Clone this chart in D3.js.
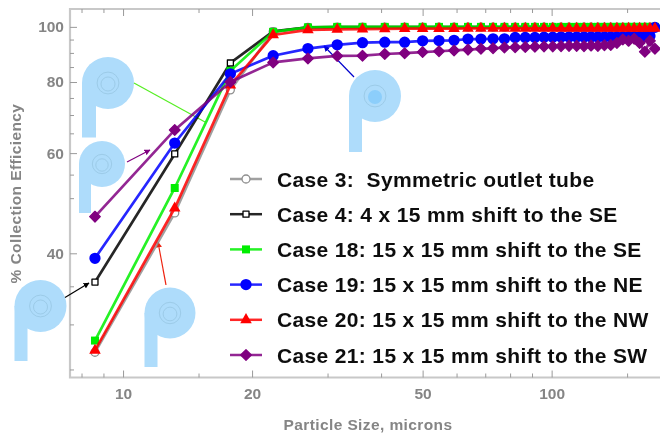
<!DOCTYPE html>
<html>
<head>
<meta charset="utf-8">
<script src="https://cdn.jsdelivr.net/npm/d3@7"></script>
<style>
  html, body { margin: 0; padding: 0; background: #fff; }
  svg { display: block; }
  text { font-family: "Liberation Sans", Arial, sans-serif; font-weight: bold; white-space: pre; }
</style>
</head>
<body>
<div id="chart"></div>
<script>
var width  = 660;
var height = 434;

// Particle size, microns
var sizes = [8.6, 13.2, 17.8, 22.4, 27, 31.6, 36.2, 40.8, 45.4, 50, 54.6, 59.2, 63.8,
  68.4, 73, 77.6, 82.2, 86.8, 91.4, 96, 100.6, 105.2, 109.8, 114.4, 119, 123.6, 128.2,
  132.8, 137.4, 142, 146.6, 151.2, 155.8, 160.4, 165, 169.6, 174.2];

// % collection efficiency, one list per case
var case3 = [26.8, 47.1, 77.5, 98, 99.8, 99.9, 99.9, 99.9, 99.9, 99.9, 99.9, 99.9, 99.9,
  99.9, 99.9, 99.9, 99.9, 99.9, 99.9, 99.9, 99.9, 99.9, 99.9, 99.9, 99.9, 99.9, 99.9,
  99.9, 99.9, 99.9, 99.9, 99.9, 99.9, 99.9, 99.9, 99.9, 99.9];
var case4 = [35.6, 59.8, 86.4, 98.2, 99.8, 99.9, 99.9, 99.9, 99.9, 99.9, 99.9, 99.9, 99.9,
  99.9, 99.9, 99.9, 99.9, 99.9, 99.9, 99.9, 99.9, 99.9, 99.9, 99.9, 99.9, 99.9, 99.9,
  99.9, 99.9, 99.9, 99.9, 99.9, 99.9, 99.9, 99.9, 99.9, 99.9];
var case18 = [28.1, 52.1, 83.7, 98, 99.8, 100, 100, 100, 100, 100, 100, 100, 100,
  100, 100, 100, 100, 100, 100, 100, 100, 100, 100, 100, 100, 100, 100,
  100, 100, 100, 100, 100, 100, 100, 100, 100, 100];
var case19 = [39.2, 62.5, 82.7, 89, 91.6, 93, 93.8, 94, 94, 94.5, 94.6, 94.7, 95.2,
  95.2, 95.3, 95.3, 95.8, 95.8, 95.8, 95.9, 95.9, 96, 96, 96, 96, 96, 96,
  96, 96, 96, 96, 96.1, 96.1, 96.1, 96.2, 96.4, 99.8];
var case20 = [27, 48, 79, 96.8, 98.8, 99, 99.1, 99.2, 99.3, 99.3, 99.3, 99.3, 99.4,
  99.4, 99.4, 99.4, 99.4, 99.4, 99.4, 99.4, 99.4, 99.4, 99.4, 99.4, 99.4, 99.4, 99.4,
  99.4, 99.4, 99.4, 99.4, 99.4, 99.4, 99.4, 99.4, 99.4, 99.4];
var case21 = [46.4, 65.9, 80, 86.6, 88, 88.9, 89, 89.6, 89.9, 90.3, 90.6, 90.9, 91.2,
  91.5, 91.7, 92, 92.1, 92.2, 92.3, 92.4, 92.4, 92.5, 92.6, 92.6, 92.5, 92.7, 92.6,
  92.8, 92.9, 93.7, 95, 94.5, 95.3, 93.7, 90.4, 94.5, 91.5];

var legendLabels = [
  "Case 3:  Symmetric outlet tube",
  "Case 4: 4 x 15 mm shift to the SE",
  "Case 18: 15 x 15 mm shift to the SE",
  "Case 19: 15 x 15 mm shift to the NE",
  "Case 20: 15 x 15 mm shift to the NW",
  "Case 21: 15 x 15 mm shift to the SW"
];
var caseValues = [case3, case4, case18, case19, case20, case21];
var caseColors = ["#8f8f8f", "#000000", "#00ee00", "#0000ff", "#ff0000", "#800080"];
var caseSymbols = ["openCircle", "openSquare", "square", "circle", "triangle", "diamond"];

var xTicks = [10, 20, 50, 100];
var xMinorTicks = [8, 9, 15, 30, 40, 60, 70, 80, 90, 150];
var yTicks = [40, 60, 80, 100];
var yMinorTicks = [25, 30, 35, 50, 55, 65, 70, 75, 85, 90, 95];

// Pump inset sketches: circle centre, radius, outlet width and where the outlet ends.
var pumps = [
  { cx: 108, cy: 83,  r: 26,   w: 14, end: 137.5 },
  { cx: 102, cy: 164, r: 23,   w: 12, end: 213 },
  { cx: 375, cy: 96,  r: 26,   w: 13, end: 152, dot: true },
  { cx: 40.5, cy: 306, r: 26,  w: 13, end: 361 },
  { cx: 170, cy: 313, r: 25.5, w: 13, end: 367 }
];

// Leader lines from the sketches to their curves
var leaders = [
  { from: [134, 83],  to: [205, 122], color: "#55ee22", head: null },
  { from: [127, 162], to: [150, 150], color: "#800080", head: "purple" },
  { from: [354, 77],  to: [324, 46],  color: "#0000cc", head: "blue" },
  { from: [65, 297.5], to: [89, 283], color: "#000000", head: "black" },
  { from: [166, 285], to: [158, 242], color: "#ee2211", head: "red" }
];

var x = d3.scaleLog().domain([7.52, 179]).range([70, 660]);
var y = d3.scaleLog().domain([24.2, 107.5]).range([377.5, 9]);

var svg = d3.select("#chart").append("svg")
  .attr("width", width)
  .attr("height", height);

// The reference is a soft, resampled image
var defs = svg.append("defs");
defs.append("filter")
  .attr("id", "soft")
  .attr("x", "-5%").attr("y", "-5%").attr("width", "110%").attr("height", "110%")
  .append("feGaussianBlur").attr("stdDeviation", 0.7);

leaders.filter(function(d) { return d.head; }).forEach(function(d) {
  defs.append("marker")
    .attr("id", "head-" + d.head)
    .attr("viewBox", "0 0 10 10")
    .attr("refX", 9).attr("refY", 5)
    .attr("markerWidth", 6).attr("markerHeight", 6)
    .attr("markerUnits", "userSpaceOnUse")
    .attr("orient", "auto")
    .append("path").attr("d", "M0,0L10,5L0,10Z").attr("fill", d.color);
});

var root = svg.append("g").attr("filter", "url(#soft)");

// Frame
root.append("path")
  .attr("fill", "none").attr("stroke", "#c8c8c8").attr("stroke-width", 2.2)
  .attr("d", "M" + x.range()[1] + "," + y.range()[0] + "H" + x.range()[0] + "V" + y.range()[1] + "H" + x.range()[1]);

function styleAxis(g) {
  g.select(".domain").remove();
  g.selectAll("line").attr("stroke", "#9a9a9a").attr("stroke-width", 1);
  g.selectAll("text").attr("fill", "#858585").attr("font-size", 15.5);
}

// Axes
var xAxisG = root.append("g").attr("transform", "translate(0," + y.range()[0] + ")")
  .call(d3.axisBottom(x).tickValues(xTicks).tickSize(-7).tickFormat(d3.format("d")))
  .call(styleAxis);
xAxisG.selectAll("text").attr("y", 8).attr("dy", "0.85em");
root.append("g").attr("transform", "translate(0," + y.range()[1] + ")")
  .call(d3.axisTop(x).tickValues(xTicks).tickSize(-7).tickFormat(""))
  .call(styleAxis);
var yAxisG = root.append("g").attr("transform", "translate(" + x.range()[0] + ",0)")
  .call(d3.axisLeft(y).tickValues(yTicks).tickSize(-7).tickFormat(d3.format("d")))
  .call(styleAxis);
yAxisG.selectAll("text").attr("x", -6);

root.append("g").attr("transform", "translate(0," + y.range()[0] + ")")
  .call(d3.axisBottom(x).tickValues(xMinorTicks).tickSize(-4).tickFormat(""))
  .call(styleAxis);
root.append("g").attr("transform", "translate(0," + y.range()[1] + ")")
  .call(d3.axisTop(x).tickValues(xMinorTicks).tickSize(-4).tickFormat(""))
  .call(styleAxis);
root.append("g").attr("transform", "translate(" + x.range()[0] + ",0)")
  .call(d3.axisLeft(y).tickValues(yMinorTicks).tickSize(-4).tickFormat(""))
  .call(styleAxis);

// Axis titles
root.append("text")
  .attr("x", 368).attr("y", 430)
  .attr("text-anchor", "middle")
  .attr("fill", "#858585").attr("font-size", 15.5).attr("letter-spacing", 0.4)
  .text("Particle Size, microns");
root.append("text")
  .attr("transform", "translate(21,193.5)rotate(-90)")
  .attr("text-anchor", "middle")
  .attr("fill", "#858585").attr("font-size", 15.5).attr("letter-spacing", 0.4)
  .text("% Collection Efficiency");

// Pump sketches
var pumpG = root.append("g").selectAll("g").data(pumps).enter().append("g");
pumpG.append("rect")
  .attr("x", function(d) { return d.cx - d.r; })
  .attr("y", function(d) { return d.cy; })
  .attr("width", function(d) { return d.w; })
  .attr("height", function(d) { return d.end - d.cy; })
  .attr("fill", "#aedcfb");
pumpG.append("circle")
  .attr("cx", function(d) { return d.cx; })
  .attr("cy", function(d) { return d.cy; })
  .attr("r", function(d) { return d.r; })
  .attr("fill", "#aedcfb");
pumpG.append("circle")
  .attr("cx", function(d) { return d.cx; })
  .attr("cy", function(d) { return d.cy; })
  .attr("r", function(d) { return d.r * 0.42; })
  .attr("fill", "none")
  .attr("stroke", "#9ccbe8").attr("stroke-width", 1);
pumpG.append("circle")
  .attr("cx", function(d) { return d.cx; })
  .attr("cy", function(d) { return d.cy + 1; })
  .attr("r", function(d) { return d.r * 0.27; })
  .attr("fill", function(d) { return d.dot ? "#8ccefb" : "none"; })
  .attr("stroke", function(d) { return d.dot ? "none" : "#9ccbe8"; })
  .attr("stroke-width", 1);

// Leaders
root.append("g").selectAll("line").data(leaders).enter().append("line")
  .attr("x1", function(d) { return d.from[0]; })
  .attr("y1", function(d) { return d.from[1]; })
  .attr("x2", function(d) { return d.to[0]; })
  .attr("y2", function(d) { return d.to[1]; })
  .attr("stroke", function(d) { return d.color; })
  .attr("stroke-width", 1.2)
  .attr("marker-end", function(d) { return d.head ? "url(#head-" + d.head + ")" : null; });

// Draws one case symbol at the origin of the given selection
function drawSymbol(sel, kind, color) {
  var gen = {
    openCircle: [d3.symbolCircle, 50],
    openSquare: [d3.symbolSquare, 36],
    square: [d3.symbolSquare, 64],
    circle: [d3.symbolCircle, 100],
    triangle: [d3.symbolTriangle, 58],
    diamond: [d3.symbolDiamond2, 72]
  }[kind];
  var open = kind == "openCircle" || kind == "openSquare";
  sel.append("path")
    .attr("d", d3.symbol().type(gen[0]).size(gen[1]))
    .attr("fill", open ? "#fff" : color)
    .attr("stroke", open || kind == "diamond" ? color : "none")
    .attr("stroke-linejoin", "round")
    .attr("stroke-width", 1.3);
}

var line = d3.line()
  .x(function(d) { return x(d[0]); })
  .y(function(d) { return y(d[1]); });

caseValues.forEach(function(values, i) {
  var points = values.map(function(v, j) { return [sizes[j], v]; });
  var g = root.append("g");
  g.append("path")
    .attr("d", line(points))
    .attr("fill", "none")
    .attr("stroke", caseColors[i])
    .attr("stroke-opacity", 0.85)
    .attr("stroke-width", 2.7);
  var marks = g.selectAll("g").data(points).enter().append("g")
    .attr("transform", function(d) { return "translate(" + x(d[0]) + "," + y(d[1]) + ")"; });
  drawSymbol(marks, caseSymbols[i], caseColors[i]);
});

// Legend
var legendY = d3.scalePoint().domain(legendLabels).range([179, 355]);
var legend = root.append("g").selectAll("g").data(legendLabels).enter().append("g")
  .attr("transform", function(d) { return "translate(246," + legendY(d) + ")"; });
legend.append("line")
  .attr("x1", -16).attr("x2", 16)
  .attr("stroke", function(d, i) { return caseColors[i]; })
  .attr("stroke-opacity", 0.85)
  .attr("stroke-width", 2.5);
legend.each(function(d, i) {
  drawSymbol(d3.select(this), caseSymbols[i], caseColors[i]);
});
legend.append("text")
  .attr("x", 31).attr("dy", "0.36em")
  .attr("fill", "#111").attr("font-size", 21).attr("letter-spacing", 0.35)
  .text(function(d) { return d; });
</script>
</body>
</html>
